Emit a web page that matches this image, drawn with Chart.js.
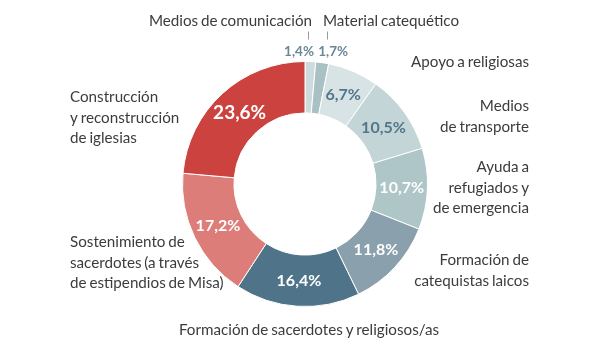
<!DOCTYPE html>
<html>
<head>
<meta charset="utf-8">
<script src="https://cdn.jsdelivr.net/npm/chart.js@4.4.1/dist/chart.umd.min.js"></script>
<style>
  html, body { margin: 0; padding: 0; background: #ffffff; }
  #wrap { position: relative; width: 600px; height: 356px; }
</style>
</head>
<body>
<div id="wrap"><canvas id="c" width="600" height="356"></canvas></div>
<script>
// ---- data ----
const categories = [
  "Medios de comunicación",
  "Material catequético",
  "Apoyo a religiosas",
  "Medios de transporte",
  "Ayuda a refugiados y de emergencia",
  "Formación de catequistas laicos",
  "Formación de sacerdotes y religiosos/as",
  "Sostenimiento de sacerdotes (a través de estipendios de Misa)",
  "Construcción y reconstrucción de iglesias"
];
const values = [1.4, 1.7, 6.7, 10.5, 10.7, 11.8, 16.4, 17.2, 23.6];
const categoryLines = [
  ["Medios de comunicación"],
  ["Material catequético"],
  ["Apoyo a religiosas"],
  ["Medios", "de transporte"],
  ["Ayuda a", "refugiados y", "de emergencia"],
  ["Formación de", "catequistas laicos"],
  ["Formación de sacerdotes y religiosos/as"],
  ["Sostenimiento de", "sacerdotes (a través", "de estipendios de Misa)"],
  ["Construcción", "y reconstrucción", "de iglesias"]
];

// ---- styles / layout ----
const colors = ["#cddbdc", "#a9c1c4", "#d7e3e4", "#c4d5d7", "#aec6c8", "#8aa0ad", "#4f7489", "#dc7d79", "#cb423e"];
const pctColors = ["#6a8798", "#6a8798", "#52768b", "#52768b", "#ffffff", "#ffffff", "#ffffff", "#ffffff", "#ffffff"];
// label anchor: x, y (middle of first line), align
const labelLayout = [
  {x: 312, y: 21, align: "right"},
  {x: 323, y: 21, align: "left"},
  {x: 529, y: 62, align: "right"},
  {x: 529, y: 106, align: "right"},
  {x: 529, y: 167, align: "right"},
  {x: 529, y: 260, align: "right"},
  {x: 309, y: 330, align: "center"},
  {x: 70, y: 242, align: "left"},
  {x: 70, y: 97, align: "left"}
];
const lineHeight = 20.8;
const FONT = "Lato, 'Source Sans Pro', 'Noto Sans', sans-serif";

function fmt(v) { return v.toFixed(1).replace(".", ",") + "%"; }

const labelsPlugin = {
  id: "labels",
  afterDatasetsDraw(chart) {
    const ctx = chart.ctx;
    const meta = chart.getDatasetMeta(0);
    ctx.save();
    // percentage labels
    meta.data.forEach((arc, i) => {
      const v = values[i];
      const p = arc.getProps(["x", "y", "startAngle", "endAngle", "innerRadius", "outerRadius"], true);
      const mid = (p.startAngle + p.endAngle) / 2;
      ctx.fillStyle = pctColors[i];
      ctx.textBaseline = "middle";
      ctx.textAlign = "center";
      if (v < 3) {
        ctx.font = "bold 13.5px " + FONT;
        const tx = p.x + (p.outerRadius + 14) * Math.cos(mid);
        const ty = p.y - p.outerRadius - 10;
        const dx = i === 0 ? -12 : 9;
        ctx.fillText(fmt(v), tx + dx, ty);
        // tick to category label
        ctx.strokeStyle = "#9a9a9a";
        ctx.lineWidth = 1;
        const lx = (i === 0 ? labelLayout[0].x - 4 : labelLayout[1].x + 4) + 0.5;
        ctx.beginPath();
        ctx.moveTo(lx, p.y - p.outerRadius - 30);
        ctx.lineTo(lx, p.y - p.outerRadius - 22);
        ctx.stroke();
      } else {
        const size = v > 20 ? 19 : 16;
        ctx.font = "bold " + size + "px " + FONT;
        const r = (p.innerRadius + p.outerRadius) / 2;
        ctx.fillText(fmt(v), p.x + r * Math.cos(mid), p.y + r * Math.sin(mid));
      }
    });
    // category labels
    ctx.font = "15.2px " + FONT;
    ctx.fillStyle = "#3c3c3c";
    ctx.textBaseline = "middle";
    if ("wordSpacing" in ctx) ctx.wordSpacing = "-1px";
    categoryLines.forEach((lines, i) => {
      const L = labelLayout[i];
      ctx.textAlign = L.align;
      lines.forEach((t, k) => ctx.fillText(t, L.x, L.y + k * lineHeight));
    });
    ctx.restore();
  }
};

new Chart(document.getElementById("c"), {
  type: "doughnut",
  data: {
    labels: categories,
    datasets: [{
      data: values,
      backgroundColor: colors,
      borderColor: "#ffffff",
      borderWidth: 1
    }]
  },
  options: {
    responsive: false,
    animation: false,
    cutout: "58%",
    layout: { padding: { top: 61, bottom: 49, left: 182, right: 172 } },
    plugins: { legend: { display: false }, tooltip: { enabled: false } }
  },
  plugins: [labelsPlugin]
});
</script>
</body>
</html>
